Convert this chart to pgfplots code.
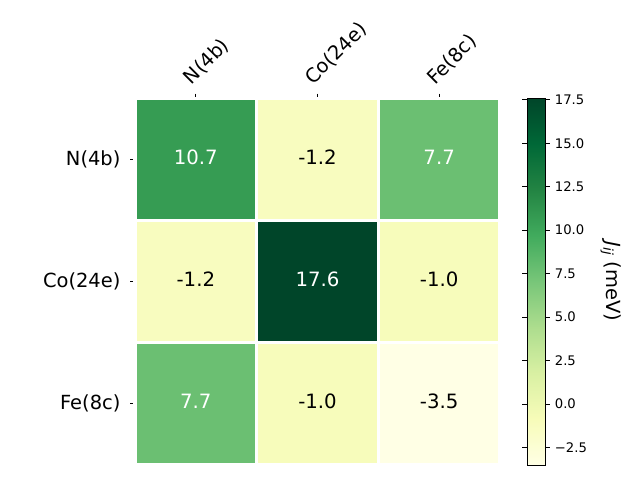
\documentclass[border=0pt]{standalone}
\usepackage{fontspec}
\setmainfont{DejaVu Sans}
\usepackage{pgfplots}
\pgfplotsset{compat=1.18}
\pgfplotsset{
  colormap={ylgn}{rgb255(0)=(255,255,229) rgb255(1)=(247,252,185) rgb255(2)=(217,240,163)
    rgb255(3)=(173,221,142) rgb255(4)=(120,198,121) rgb255(5)=(65,171,93)
    rgb255(6)=(35,132,67) rgb255(7)=(0,104,55) rgb255(8)=(0,69,41)}
}
\pgfplotstableread{
x y c
0 0 10.7
1 0 -1.2
2 0 7.7
0 1 -1.2
1 1 17.6
2 1 -1.0
0 2 7.7
1 2 -1.0
2 2 -3.5
}\heat
\pgfplotstableread{
x y label
0 0 10.7
1 1 17.6
2 0 7.7
0 2 7.7
}\whitelab
\pgfplotstableread{
x y label
1 0 -1.2
0 1 -1.2
2 1 -1.0
1 2 -1.0
2 2 -3.5
}\blacklab
\begin{document}
\begin{tikzpicture}
\useasboundingbox (0,0) rectangle (460.8pt,345.6pt);
\begin{axis}[
  at={(97.2pt,11.16pt)}, anchor=south west,
  scale only axis, width=262.8pt, height=263.52pt,
  xmin=-0.5, xmax=2.5, ymin=-0.5, ymax=2.5,
  y dir=reverse,
  colormap name=ylgn,
  point meta min=-3.5, point meta max=17.6,
  axis on top,
  axis line style={draw=white, line width=2.2pt},
  xtick={0,1,2}, ytick={0,1,2},
  xticklabels={N(4b),Co(24e),Fe(8c)},
  yticklabels={N(4b),Co(24e),Fe(8c)},
  xtick pos=upper, ytick pos=lower,
  xticklabel pos=upper,
  tick align=outside,
  major tick length=3.5pt,
  tick style={black, line width=0.8pt},
  minor xtick={0.5,1.5}, minor ytick={0.5,1.5},
  minor tick length=0pt,
  xminorgrids, yminorgrids,
  minor grid style={white, line width=2.2pt},
  tick label style={font=\fontsize{14}{14}\selectfont},
  yticklabel style={inner sep=0pt, xshift=-6.8pt},
  xticklabel style={inner sep=0pt, anchor=base west, xshift=-3.1pt, yshift=5.9pt, rotate=45},
  colorbar,
  colorbar style={
    at={(parent axis.north east)}, anchor=north west,
    xshift=10.94pt, yshift=0.36pt,
    scale only axis, width=12.96pt, height=264.24pt,
    ytick={-2.5,0,2.5,5,7.5,10,12.5,15,17.5},
    yticklabels={−2.5,0.0,2.5,5.0,7.5,10.0,12.5,15.0,17.5},
    yticklabel style={font=\fontsize{9.5}{9.5}\selectfont, inner sep=0pt, xshift=3.4pt},
    axis line style={draw=black, line width=0.6pt},
    tick style={black, line width=0.6pt},
    major tick length=3.5pt, tick align=outside,
    ylabel={{\itshape J\textsubscript{ij}} (meV)},
    ylabel style={font=\fontsize{14}{14}\selectfont, rotate=180,
      at={(axis description cs:4.67,0.5)}, anchor=center},
  },
]
\addplot[matrix plot*, mesh/cols=3, point meta=explicit, draw=none] table[x=x, y=y, meta=c] {\heat};
\addplot[draw=none, nodes near coords, point meta=explicit symbolic,
  nodes near coords align=center,
  every node near coord/.append style={font=\fontsize{14.2}{14.2}\selectfont, text=white, yshift=1.8pt}]
  table[x=x, y=y, meta=label] {\whitelab};
\addplot[draw=none, nodes near coords, point meta=explicit symbolic,
  nodes near coords align=center,
  every node near coord/.append style={font=\fontsize{14.2}{14.2}\selectfont, text=black, yshift=1.8pt}]
  table[x=x, y=y, meta=label] {\blacklab};
\end{axis}
\end{tikzpicture}
\end{document}
